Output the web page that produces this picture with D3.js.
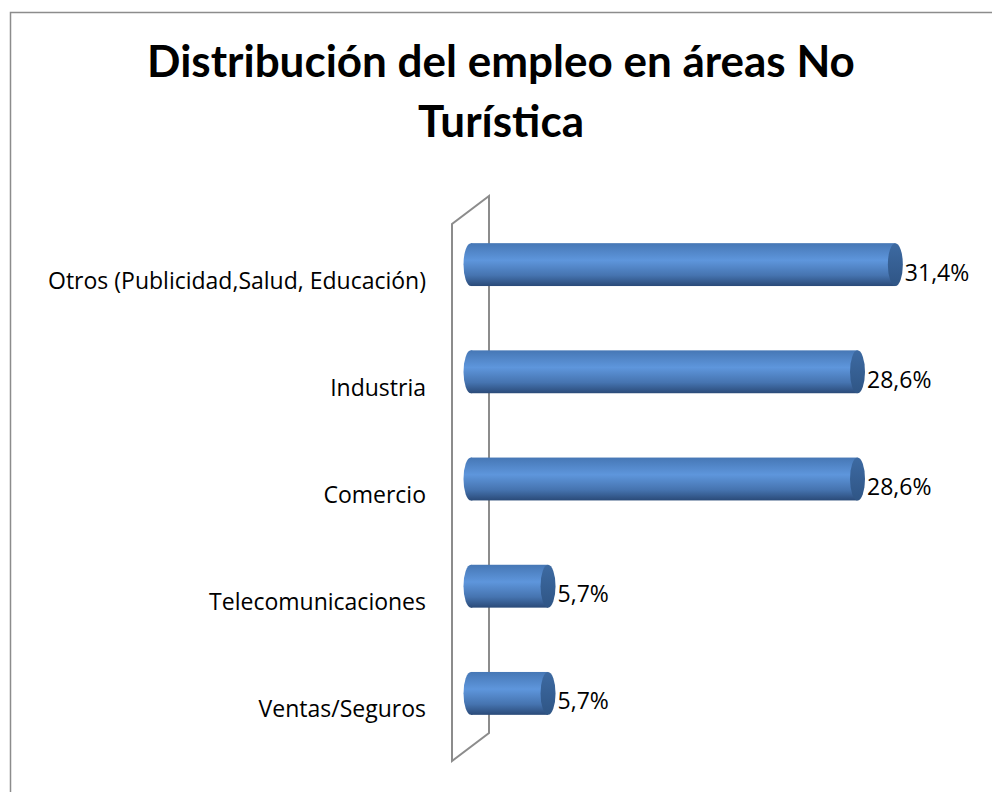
<!DOCTYPE html>
<html>
<head>
<meta charset="utf-8">
<script src="https://cdn.jsdelivr.net/npm/d3@7"></script>
<style>
  body { margin: 0; background: #fff; }
  text { font-family: "Open Sans", Lato, sans-serif; }
  .title { font-family: Lato, "Open Sans", sans-serif; }
</style>
</head>
<body>
<div id="chart"></div>
<script>
const categories = ["Otros (Publicidad,Salud, Educación)", "Industria", "Comercio", "Telecomunicaciones", "Ventas/Seguros"];
const values = [31.4, 28.6, 28.6, 5.7, 5.7];
const valueLabels = ["31,4%", "28,6%", "28,6%", "5,7%", "5,7%"];
const titleLines = ["Distribución del empleo en áreas No", "Turística"];

const width = 992;
const height = 792;

const svg = d3.select("#chart").append("svg").attr("width", width).attr("height", height);

const defs = svg.append("defs");
const grad = defs.append("linearGradient").attr("id", "barGrad")
    .attr("x1", 0).attr("y1", 0).attr("x2", 0).attr("y2", 1);
grad.append("stop").attr("offset", "0%").attr("stop-color", "#4677b5");
grad.append("stop").attr("offset", "40%").attr("stop-color", "#5e96dc");
grad.append("stop").attr("offset", "75%").attr("stop-color", "#4674b0");
grad.append("stop").attr("offset", "100%").attr("stop-color", "#2a4a78");

const capGrad = defs.append("linearGradient").attr("id", "capGrad")
    .attr("x1", 0).attr("y1", 0).attr("x2", 0).attr("y2", 1);
capGrad.append("stop").attr("offset", "0%").attr("stop-color", "#3d6aa2");
capGrad.append("stop").attr("offset", "100%").attr("stop-color", "#2f5585");

// chart border
svg.append("rect")
    .attr("x", 10.5).attr("y", 12.5)
    .attr("width", 1000).attr("height", 1000)
    .attr("fill", "none")
    .attr("stroke", "#8c8c8c")
    .attr("stroke-width", 1.5);

// title
svg.append("text").attr("class", "title")
    .attr("x", 501).attr("y", 77)
    .attr("text-anchor", "middle")
    .style("font-size", "44px").style("font-weight", "bold")
    .text(titleLines[0]);
svg.append("text").attr("class", "title")
    .attr("x", 501).attr("y", 137)
    .attr("text-anchor", "middle")
    .style("font-size", "44px").style("font-weight", "bold")
    .text(titleLines[1]);

const x = d3.scaleLinear().domain([0, 35]).range([471, 944]);
const y = d3.scaleBand().domain(categories).range([211, 747]).paddingInner(0.6).paddingOuter(0.3);

// back wall (3D)
const depth = { dx: 37, dy: -28 };
const wallLeft = 452, wallTop = 224, wallBottom = 761;
svg.append("path")
    .attr("d", `M${wallLeft},${wallBottom} L${wallLeft},${wallTop} L${wallLeft + depth.dx},${wallTop + depth.dy} L${wallLeft + depth.dx},${wallBottom + depth.dy} Z`)
    .attr("fill", "none")
    .attr("stroke", "#8c8c8c")
    .attr("stroke-width", 2);

const rx = 7.5;
const bars = svg.append("g").selectAll("g").data(categories).join("g");

bars.append("ellipse")
    .attr("cx", x(0))
    .attr("cy", d => y(d) + y.bandwidth() / 2)
    .attr("rx", rx)
    .attr("ry", y.bandwidth() / 2)
    .attr("fill", "url(#barGrad)");

bars.append("rect")
    .attr("x", x(0))
    .attr("y", d => y(d))
    .attr("width", (d, i) => x(values[i]) - x(0))
    .attr("height", y.bandwidth())
    .attr("fill", "url(#barGrad)");

bars.append("ellipse")
    .attr("cx", (d, i) => x(values[i]))
    .attr("cy", d => y(d) + y.bandwidth() / 2)
    .attr("rx", rx)
    .attr("ry", y.bandwidth() / 2)
    .attr("fill", "url(#capGrad)");

// value labels
svg.append("g").selectAll("text").data(categories).join("text")
    .attr("x", (d, i) => x(values[i]) + rx + 2)
    .attr("y", d => y(d) + y.bandwidth() / 2 + 16)
    .style("font-size", "23px")
    .text((d, i) => valueLabels[i]);

// category labels
svg.append("g").selectAll("text").data(categories).join("text")
    .attr("x", 426)
    .attr("y", d => y(d) + y.bandwidth() / 2 + 24)
    .attr("text-anchor", "end")
    .style("font-size", "23px")
    .text(d => d);
</script>
</body>
</html>
